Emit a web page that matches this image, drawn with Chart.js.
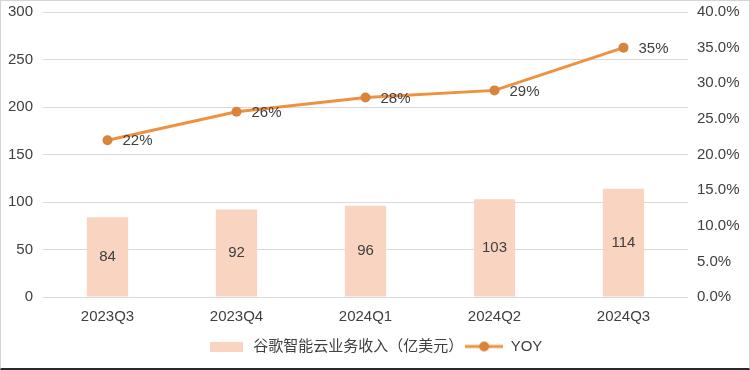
<!DOCTYPE html>
<html>
<head>
<meta charset="utf-8">
<script src="https://cdn.jsdelivr.net/npm/chart.js@4/dist/chart.umd.min.js"></script>
<style>
  html, body { margin: 0; padding: 0; background: #fff; }
  #wrap {
    width: 750px; height: 370px; box-sizing: border-box;
    border: 1px solid #d4d4d4; border-bottom: 2px solid #2a2a2a;
    position: relative;
  }
</style>
</head>
<body>
<div id="wrap"><canvas id="chart"></canvas></div>
<script>
const quarters = ["2023Q3", "2023Q4", "2024Q1", "2024Q2", "2024Q3"];
const cloudRevenue = [84, 92, 96, 103, 114];
const yoyGrowth = [22, 26, 28, 29, 35];
const revenueLabel = "谷歌智能云业务收入（亿美元）";
const yoyLabel = "YOY";

const barColor = "#F9D4C0";
const lineColor = "#EE9140";
const pointColor = "#D8843A";
const textColor = "#404040";
const fontFamily = "'Liberation Sans', Arial, 'Noto Sans CJK SC', sans-serif";

// legend swatches
function barSwatch() {
    const c = document.createElement("canvas");
    c.width = 33; c.height = 10;
    const g = c.getContext("2d");
    g.fillStyle = barColor;
    g.fillRect(0, 0, 33, 10);
    return c;
}
function lineSwatch() {
    const c = document.createElement("canvas");
    c.width = 38; c.height = 12;
    const g = c.getContext("2d");
    g.strokeStyle = lineColor;
    g.lineWidth = 3;
    g.beginPath();
    g.moveTo(0, 6);
    g.lineTo(38, 6);
    g.stroke();
    g.fillStyle = pointColor;
    g.beginPath();
    g.arc(19, 6, 5, 0, Math.PI * 2);
    g.fill();
    return c;
}

// value labels on bars and points
const valueLabels = {
    id: "valueLabels",
    afterDatasetsDraw(chart) {
        const ctx = chart.ctx;
        ctx.save();
        ctx.font = "15px " + fontFamily;
        ctx.fillStyle = textColor;
        ctx.textBaseline = "middle";

        const barMeta = chart.getDatasetMeta(0);
        ctx.textAlign = "center";
        barMeta.data.forEach((bar, i) => {
            ctx.fillText(String(cloudRevenue[i]), bar.x, (bar.y + bar.base) / 2);
        });

        const lineMeta = chart.getDatasetMeta(1);
        ctx.textAlign = "left";
        lineMeta.data.forEach((pt, i) => {
            ctx.fillText(yoyGrowth[i] + "%", pt.x + 15, pt.y + 1);
        });
        ctx.restore();
    }
};

new Chart(document.getElementById("chart"), {
    type: "bar",
    data: {
        labels: quarters,
        datasets: [
            {
                type: "bar",
                label: revenueLabel,
                data: cloudRevenue,
                backgroundColor: barColor,
                yAxisID: "y",
                barPercentage: 0.32,
                categoryPercentage: 1.0
            },
            {
                type: "line",
                label: yoyLabel,
                data: yoyGrowth,
                borderColor: lineColor,
                borderWidth: 3,
                backgroundColor: pointColor,
                pointBackgroundColor: pointColor,
                pointBorderWidth: 0,
                pointRadius: 5,
                tension: 0,
                yAxisID: "y1"
            }
        ]
    },
    options: {
        responsive: true,
        maintainAspectRatio: false,
        animation: false,
        layout: { padding: { top: 11, bottom: 4, left: 0, right: 0 } },
        plugins: {
            tooltip: { enabled: false },
            legend: {
                position: "bottom",
                labels: {
                    usePointStyle: true,
                    pointStyleWidth: 38,
                    boxHeight: 12,
                    padding: 2,
                    color: textColor,
                    font: { family: fontFamily, size: 15 },
                    generateLabels() {
                        return [
                            { text: revenueLabel, pointStyle: barSwatch(), fillStyle: barColor, strokeStyle: barColor, lineWidth: 0, datasetIndex: 0, fontColor: textColor },
                            { text: yoyLabel, pointStyle: lineSwatch(), fillStyle: pointColor, strokeStyle: lineColor, lineWidth: 0, datasetIndex: 1, fontColor: textColor }
                        ];
                    }
                }
            }
        },
        scales: {
            x: {
                grid: { display: false, drawTicks: false },
                border: { display: false },
                ticks: {
                    color: textColor,
                    padding: 11,
                    font: { family: fontFamily, size: 15 }
                }
            },
            y: {
                position: "left",
                min: 0,
                max: 300,
                ticks: {
                    stepSize: 50,
                    color: textColor,
                    padding: 10,
                    font: { family: fontFamily, size: 15 }
                },
                grid: { color: "#D9D9D9", lineWidth: 1, drawTicks: false },
                border: { display: false },
                afterFit(scale) { scale.width = 42; scale.paddingTop = 0; scale.paddingBottom = 0; }
            },
            y1: {
                position: "right",
                min: 0,
                max: 40,
                ticks: {
                    stepSize: 5,
                    color: textColor,
                    padding: 9,
                    font: { family: fontFamily, size: 15 },
                    callback: v => v.toFixed(1) + "%"
                },
                grid: { display: false, drawTicks: false },
                border: { display: false },
                afterFit(scale) { scale.width = 61; scale.paddingTop = 0; scale.paddingBottom = 0; }
            }
        }
    },
    plugins: [valueLabels]
});
</script>
</body>
</html>
